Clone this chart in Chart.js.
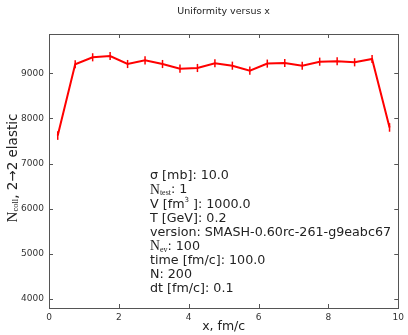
<!DOCTYPE html>
<html>
<head>
<meta charset="utf-8">
<script src="https://cdn.jsdelivr.net/npm/chart.js@4/dist/chart.umd.min.js"></script>
<style>
  html, body { margin: 0; padding: 0; background: #fff; }
  #wrap { width: 408px; height: 335px; }
</style>
</head>
<body>
<div id="wrap"><canvas id="uniChart" width="408" height="335"></canvas></div>
<script>
// data
const xValues = [0.25, 0.75, 1.25, 1.75, 2.25, 2.75, 3.25, 3.75, 4.25, 4.75,
                 5.25, 5.75, 6.25, 6.75, 7.25, 7.75, 8.25, 8.75, 9.25, 9.75];
const yValues = [7620, 9200, 9354, 9383, 9205, 9287, 9205, 9102, 9117, 9221,
                 9168, 9058, 9214, 9228, 9168, 9257, 9265, 9243, 9316, 7800];
const yErrors = [95, 90, 90, 90, 90, 90, 90, 90, 90, 90,
                 90, 90, 90, 90, 90, 90, 90, 90, 90, 95];
const xTicks = [0, 2, 4, 6, 8, 10];
const yTicks = [4000, 5000, 6000, 7000, 8000, 9000];

const titleText = 'Uniformity versus x';
const xLabel = 'x, fm/c';

// each line: list of [text, kind] where kind is 'sans', 'serif', 'sub', 'sup'
const infoLines = [
    [['σ [mb]: 10.0', 'sans']],
    [['N', 'serif'], ['test', 'sub'], [': 1', 'sans']],
    [['V [fm', 'sans'], ['3', 'sup'], [' ]: 1000.0', 'sans']],
    [['T [GeV]: 0.2', 'sans']],
    [['version: SMASH-0.60rc-261-g9eabc67', 'sans']],
    [['N', 'serif'], ['ev', 'sub'], [': 100', 'sans']],
    [['time [fm/c]: 100.0', 'sans']],
    [['N: 200', 'sans']],
    [['dt [fm/c]: 0.1', 'sans']]
];

const SANS = '"DejaVu Sans", sans-serif';
const SERIF = '"Liberation Serif", "DejaVu Serif", serif';

function drawRuns(ctx, runs, x, y, size) {
    const fonts = {
        sans: [size + 'px ' + SANS, 0],
        serif: [(size + 1) + 'px ' + SERIF, 0],
        sub: [Math.round(size * 0.6) + 'px ' + SERIF, 3],
        sup: [Math.round(size * 0.55) + 'px ' + SANS, -4]
    };
    ctx.textAlign = 'left';
    runs.forEach(([txt, kind]) => {
        ctx.font = fonts[kind][0];
        ctx.fillText(txt, x, y + fonts[kind][1]);
        x += ctx.measureText(txt).width;
    });
}

const extrasPlugin = {
    id: 'extras',
    afterDatasetsDraw(chart) {
        const ctx = chart.ctx;
        const xs = chart.scales.x, ys = chart.scales.y;
        const a = chart.chartArea;
        ctx.save();

        // error bars
        ctx.strokeStyle = '#ff0000';
        ctx.lineWidth = 1.5;
        xValues.forEach((xv, i) => {
            const px = xs.getPixelForValue(xv);
            ctx.beginPath();
            ctx.moveTo(px, ys.getPixelForValue(yValues[i] - yErrors[i]));
            ctx.lineTo(px, ys.getPixelForValue(yValues[i] + yErrors[i]));
            ctx.stroke();
        });

        // frame + inward ticks
        ctx.strokeStyle = '#555';
        ctx.lineWidth = 1;
        ctx.strokeRect(Math.round(a.left) + 0.5, Math.round(a.top) + 0.5,
                       Math.round(a.right - a.left), Math.round(a.bottom - a.top));
        ctx.beginPath();
        xTicks.forEach(v => {
            const px = Math.round(xs.getPixelForValue(v)) + 0.5;
            ctx.moveTo(px, a.bottom); ctx.lineTo(px, a.bottom - 4);
            ctx.moveTo(px, a.top); ctx.lineTo(px, a.top + 4);
        });
        yTicks.forEach(v => {
            const py = Math.round(ys.getPixelForValue(v)) + 0.5;
            ctx.moveTo(a.left, py); ctx.lineTo(a.left + 4, py);
            ctx.moveTo(a.right, py); ctx.lineTo(a.right - 4, py);
        });
        ctx.stroke();

        // texts
        ctx.fillStyle = '#222';
        ctx.textBaseline = 'middle';
        ctx.textAlign = 'center';
        ctx.font = '9.5px ' + SANS;
        ctx.fillText(titleText, (a.left + a.right) / 2, 12);

        ctx.font = '12.5px ' + SANS;
        ctx.fillText(xLabel, (a.left + a.right) / 2, 327);

        // y label, rotated
        ctx.save();
        ctx.translate(13, (a.top + a.bottom) / 2 - 3);
        ctx.rotate(-Math.PI / 2);
        const parts = [['N', '15px ' + SERIF, 0], ['coll', '8.5px ' + SERIF, 3],
                       [', 2→2 elastic', '13.5px ' + SANS, 0]];
        let w = 0;
        parts.forEach(p => { ctx.font = p[1]; w += ctx.measureText(p[0]).width; });
        let cx = -w / 2;
        ctx.textAlign = 'left';
        parts.forEach(p => {
            ctx.font = p[1];
            ctx.fillText(p[0], cx, p[2]);
            cx += ctx.measureText(p[0]).width;
        });
        ctx.restore();

        // info block
        infoLines.forEach((runs, i) => {
            drawRuns(ctx, runs, 150, 176 + i * 14.1, 12.7);
        });
        ctx.restore();
    }
};

Chart.defaults.color = '#333';
Chart.defaults.font.family = SANS;

new Chart(document.getElementById('uniChart').getContext('2d'), {
    type: 'line',
    data: {
        datasets: [{
            data: xValues.map((x, i) => ({ x: x, y: yValues[i] })),
            borderColor: '#ff0000',
            borderWidth: 2,
            pointRadius: 0,
            fill: false,
            tension: 0
        }]
    },
    options: {
        responsive: false,
        animation: false,
        layout: { autoPadding: false, padding: { top: 34, right: 5, left: 0, bottom: 0 } },
        plugins: { legend: { display: false }, tooltip: { enabled: false } },
        scales: {
            x: {
                type: 'linear',
                min: 0,
                max: 10,
                grid: { display: false, drawTicks: false },
                border: { display: false },
                ticks: { padding: 4, font: { size: 9 }, maxRotation: 0, callback: v => String(v) },
                afterBuildTicks: (s) => { s.ticks = xTicks.map(v => ({ value: v })); },
                afterFit: (s) => { s.height = 27; }
            },
            y: {
                type: 'linear',
                min: 3800,
                max: 9870,
                grid: { display: false, drawTicks: false },
                border: { display: false },
                ticks: { padding: 5, font: { size: 9 }, callback: v => String(v) },
                afterBuildTicks: (s) => { s.ticks = yTicks.map(v => ({ value: v })); },
                afterFit: (s) => { s.width = 49; }
            }
        }
    },
    plugins: [extrasPlugin]
});
</script>
</body>
</html>
